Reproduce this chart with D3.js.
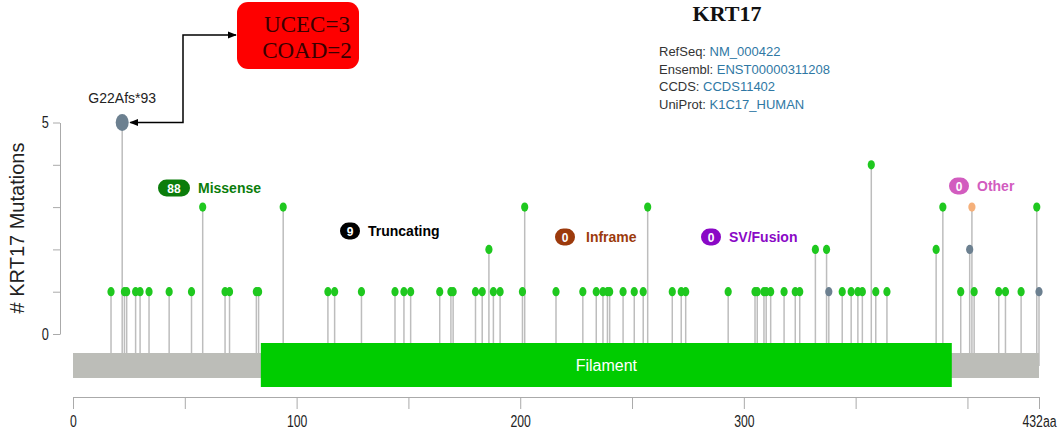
<!DOCTYPE html>
<html>
<head>
<meta charset="utf-8">
<script src="https://cdn.jsdelivr.net/npm/d3@7"></script>
<style>
  body { margin: 0; background: #fff; }
  svg { display: block; font-family: Arial, "Liberation Sans", sans-serif; }
</style>
</head>
<body>
<div id="chart"></div>
<script>
/* lollipop plot of KRT17 mutations */

// mutation positions (aa) and counts, by type
const missensePos   = [17,23,24,28,30,34,43,53,68,70,82,83,114,117,129,144,148,151,164,169,170,180,183,188,191,201,
                       216,228,234,237,239,240,246,251,255,268,272,274,293,305,306,309,310,312,318,323,325,344,348,351,353,359,364,397,403,414,417,424,
                       186,332,337,386,
                       58,94,202,257,389,431,
                       357];
const missenseCount = [1,1,1,1,1,1,1,1,1,1,1,1,1,1,1,1,1,1,1,1,1,1,1,1,1,1,
                       1,1,1,1,1,1,1,1,1,1,1,1,1,1,1,1,1,1,1,1,1,1,1,1,1,1,1,1,1,1,1,1,
                       2,2,2,2,
                       3,3,3,3,3,3,
                       4];
const truncPos   = [22, 338, 401, 432];
const truncCount = [5, 1, 2, 1];
const otherPos   = [402];
const otherCount = [3];

const proteinLength = 432;
const domainName = "Filament";
const domainStart = 84, domainEnd = 393;

const xTicks = [0, 50, 100, 150, 200, 250, 300, 350, 400, 432];
const xTickLabels = {0: "0", 100: "100", 200: "200", 300: "300", 432: "432aa"};
const yTicks = [0, 1, 2, 3, 4, 5];
const yTickLabels = {0: "0", 5: "5"};

const legendNames  = ["Missense", "Truncating", "Inframe", "SV/Fusion", "Other"];
const legendCounts = [88, 9, 0, 0, 0];

const infoLabels = ["RefSeq:", "Ensembl:", "CCDS:", "UniProt:"];
const infoValues = ["NM_000422", "ENST00000311208", "CCDS11402", "K1C17_HUMAN"];

const hotspotLabel = "G22Afs*93";
const cancerLines = ["UCEC=3", "COAD=2"];

const width = 1059, height = 431;

let svg = d3.select("#chart")
    .append("svg")
    .attr("width", width)
    .attr("height", height)
    .attr("viewBox", [0, 0, width, height]);

let x = d3.scaleLinear()
    .domain([0, proteinLength])
    .range([73, 1039]);

let y = d3.scaleLinear()
    .domain([0, 5])
    .range([334, 122.5]);

const barTop = 353, barBottom = 378;

let muts = [];
missensePos.forEach((p, i) => muts.push({pos: p, n: missenseCount[i], color: "#1fc81f"}));
truncPos.forEach((p, i) => muts.push({pos: p, n: truncCount[i], color: "#6c8090"}));
otherPos.forEach((p, i) => muts.push({pos: p, n: otherCount[i], color: "#f5b07a"}));

// stems
svg.append("g")
    .selectAll("line")
    .data(muts)
    .join("line")
    .attr("x1", d => x(d.pos))
    .attr("x2", d => x(d.pos))
    .attr("y1", d => y(d.n))
    .attr("y2", d => d.pos >= proteinLength ? barBottom - 12 : barTop)
    .attr("stroke", "#bdbdbd")
    .attr("stroke-width", 1.5);

// protein backbone + domain
svg.append("rect")
    .attr("x", x(0))
    .attr("y", barTop)
    .attr("width", x(proteinLength) - x(0))
    .attr("height", barBottom - barTop)
    .attr("fill", "#bcbdb8");

svg.append("rect")
    .attr("x", x(domainStart))
    .attr("y", 343)
    .attr("width", x(domainEnd) - x(domainStart))
    .attr("height", 44)
    .attr("fill", "#00cc00");

svg.append("text")
    .attr("x", (x(domainStart) + x(domainEnd)) / 2)
    .attr("y", 371)
    .attr("text-anchor", "middle")
    .attr("fill", "#fff")
    .style("font-size", "16px")
    .text(domainName);

// heads
svg.append("g")
    .selectAll("ellipse")
    .data(muts)
    .join("ellipse")
    .attr("cx", d => x(d.pos))
    .attr("cy", d => y(d.n))
    .attr("rx", d => d.n === 5 ? 6.5 : 3.6)
    .attr("ry", d => d.n === 5 ? 8.5 : 4.6)
    .attr("fill", d => d.color);

// x axis
let xAxis = svg.append("g")
    .attr("transform", `translate(0, 397)`)
    .call(d3.axisBottom(x)
        .tickValues(xTicks)
        .tickSize(12)
        .tickSizeOuter(0)
        .tickPadding(6)
        .tickFormat(d => xTickLabels[d] || ""));
xAxis.select(".domain").attr("stroke", "#aaa");
xAxis.selectAll(".tick line").attr("stroke", "#aaa");
xAxis.selectAll("text")
    .attr("fill", "#222")
    .attr("transform", "scale(0.72,1)")
    .style("font-size", "17px")
    .style("font-family", "Arial, sans-serif");

// y axis
let yAxis = svg.append("g")
    .attr("transform", `translate(60, 0)`)
    .call(d3.axisLeft(y)
        .tickValues(yTicks)
        .tickSize(7)
        .tickSizeOuter(0)
        .tickPadding(4)
        .tickFormat(d => yTickLabels[d] || ""));
yAxis.select(".domain").attr("stroke", "#aaa");
yAxis.selectAll(".tick line").attr("stroke", "#aaa");
yAxis.selectAll("text")
    .attr("fill", "#222")
    .attr("transform", "translate(-3,0) scale(0.75,1)")
    .style("font-size", "17px")
    .style("font-family", "Arial, sans-serif");

svg.append("text")
    .attr("transform", "translate(24, 228) rotate(-90)")
    .attr("text-anchor", "middle")
    .attr("fill", "#222")
    .style("font-size", "20px")
    .text("# KRT17 Mutations");

// legend badges
const legendColors = ["#0b7d0b", "#000000", "#9c3a0c", "#8a08c6", "#d25cbf"];
const legendX = [158, 340, 555, 701, 949];
const legendY = [188, 231, 237, 237, 186];
const legendW = [32, 20, 20, 20, 20];

legendNames.forEach((name, i) => {
    let g = svg.append("g").attr("transform", `translate(${legendX[i]}, ${legendY[i]})`);
    g.append("rect")
        .attr("x", 0).attr("y", -8.5)
        .attr("width", legendW[i]).attr("height", 17)
        .attr("rx", 8.5)
        .attr("fill", legendColors[i]);
    g.append("text")
        .attr("x", legendW[i] / 2).attr("y", 4.5)
        .attr("text-anchor", "middle")
        .attr("fill", "#fff")
        .style("font-size", "12px")
        .style("font-weight", "bold")
        .text(legendCounts[i]);
    g.append("text")
        .attr("x", legendW[i] + (i === 2 ? 11 : 8)).attr("y", 5)
        .attr("fill", legendColors[i])
        .style("font-size", "14px")
        .style("font-weight", "bold")
        .text(name);
});

// title + info
svg.append("text")
    .attr("x", 727).attr("y", 21)
    .attr("text-anchor", "middle")
    .attr("fill", "#111")
    .style("font-family", "'Liberation Serif', 'DejaVu Serif', serif")
    .style("font-size", "22px")
    .style("font-weight", "bold")
    .text("KRT17");

infoLabels.forEach((lab, i) => {
    let t = svg.append("text")
        .attr("x", 659).attr("y", 56 + i * 17.7)
        .style("font-size", "13px");
    t.append("tspan").attr("fill", "#333").text(lab + " ");
    t.append("tspan").attr("fill", "#2f78a4").text(infoValues[i]);
});

// hotspot annotation
svg.append("text")
    .attr("x", x(22)).attr("y", 103)
    .attr("text-anchor", "middle")
    .attr("fill", "#222")
    .style("font-size", "14px")
    .text(hotspotLabel);

svg.append("defs").append("marker")
    .attr("id", "arr")
    .attr("viewBox", "0 0 10 10")
    .attr("refX", 9).attr("refY", 5)
    .attr("markerWidth", 9).attr("markerHeight", 9)
    .attr("markerUnits", "userSpaceOnUse")
    .attr("orient", "auto-start-reverse")
    .append("path")
    .attr("d", "M0,1 L10,5 L0,9 z")
    .attr("fill", "#000");

svg.append("path")
    .attr("d", `M${x(22) + 8},${y(5)} H183 V35 H236`)
    .attr("fill", "none")
    .attr("stroke", "#000")
    .attr("stroke-width", 1.5)
    .attr("marker-start", "url(#arr)")
    .attr("marker-end", "url(#arr)");

svg.append("rect")
    .attr("x", 237).attr("y", 2)
    .attr("width", 122).attr("height", 67)
    .attr("rx", 11)
    .attr("fill", "#fe0000");

cancerLines.forEach((line, i) => {
    svg.append("text")
        .attr("x", 307).attr("y", 32 + i * 26)
        .attr("text-anchor", "middle")
        .attr("fill", "#3a0000")
        .style("font-family", "'Liberation Serif', 'DejaVu Serif', serif")
        .style("font-size", "23px")
        .text(line);
});
</script>
</body>
</html>
